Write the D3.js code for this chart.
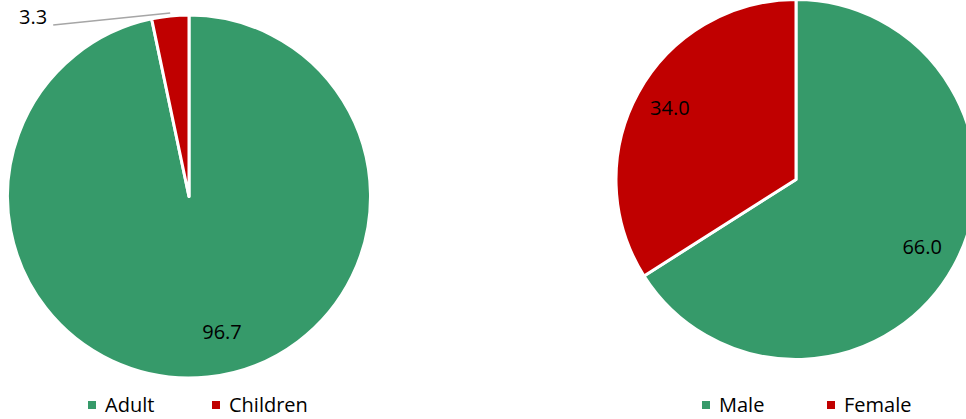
<!DOCTYPE html>
<html>
<head>
<meta charset="utf-8">
<script src="https://cdn.jsdelivr.net/npm/d3@7"></script>
<style>
  html, body { margin: 0; padding: 0; background: #fff; }
  svg { display: block; }
  text { font-family: "Open Sans", "Liberation Sans", Arial, sans-serif; fill: #000; }
</style>
</head>
<body>
<svg id="chart" width="966" height="419"></svg>
<script>
// ---- data ----
const ageCategories = ["Adult", "Children"];
const ageValues = [96.7, 3.3];
const genderCategories = ["Male", "Female"];
const genderValues = [66.0, 34.0];
const colors = ["#369A6A", "#C00000"];

const svg = d3.select("#chart");
const pie = d3.pie().sort(null).value(d => d.value);

function drawPie(cfg) {
  const data = cfg.categories.map((c, i) => ({ name: c, value: cfg.values[i] }));
  const arcs = pie(data);
  const g = svg.append("g").attr("transform", `translate(${cfg.cx},${cfg.cy})`);
  const arc = d3.arc().innerRadius(0).outerRadius(cfg.r);
  g.selectAll("path").data(arcs).join("path")
    .attr("d", arc)
    .attr("fill", (d, i) => colors[i])
    .attr("stroke", "#fff")
    .attr("stroke-width", 3)
    .attr("stroke-linejoin", "round");

  const labelArc = d3.arc().innerRadius(cfg.r * 0.8).outerRadius(cfg.r * 0.8);
  arcs.forEach((d, i) => {
    const nudge = cfg.nudges[i];
    if (nudge.outside) {
      const a = (d.startAngle + d.endAngle) / 2;
      const px = Math.sin(a) * cfg.r, py = -Math.cos(a) * cfg.r - 3;
      const lx = px + nudge.dx, ly = py + nudge.dy;
      g.append("line")
        .attr("x1", px).attr("y1", py).attr("x2", lx).attr("y2", ly)
        .attr("stroke", "#A6A6A6").attr("stroke-width", 1.5);
      g.append("text")
        .attr("x", lx - 6).attr("y", ly - 6)
        .attr("text-anchor", "end")
        .attr("dominant-baseline", "middle")
        .attr("font-size", 20)
        .text(d.data.value.toFixed(1));
    } else {
      const [x, y] = labelArc.centroid(d);
      g.append("text")
        .attr("x", x + nudge.dx).attr("y", y + nudge.dy)
        .attr("text-anchor", "middle")
        .attr("dominant-baseline", "middle")
        .attr("font-size", 20)
        .text(d.data.value.toFixed(1));
    }
  });

  // legend
  const lg = svg.append("g");
  cfg.categories.forEach((c, i) => {
    const x = cfg.legendX[i];
    lg.append("rect").attr("x", x).attr("y", 401).attr("width", 8).attr("height", 8)
      .attr("fill", colors[i]);
    lg.append("text").attr("x", x + 17).attr("y", 412).attr("font-size", 20).text(c);
  });
}

drawPie({
  categories: ageCategories, values: ageValues,
  cx: 189, cy: 196.5, r: 181.5,
  nudges: [{ dx: 18, dy: -7 }, { outside: true, dx: -117, dy: 12 }],
  legendX: [88, 212]
});

drawPie({
  categories: genderCategories, values: genderValues,
  cx: 796, cy: 179.5, r: 180,
  nudges: [{ dx: 0, dy: 0 }, { dx: 0, dy: 0 }],
  legendX: [702, 827]
});
</script>
</body>
</html>
